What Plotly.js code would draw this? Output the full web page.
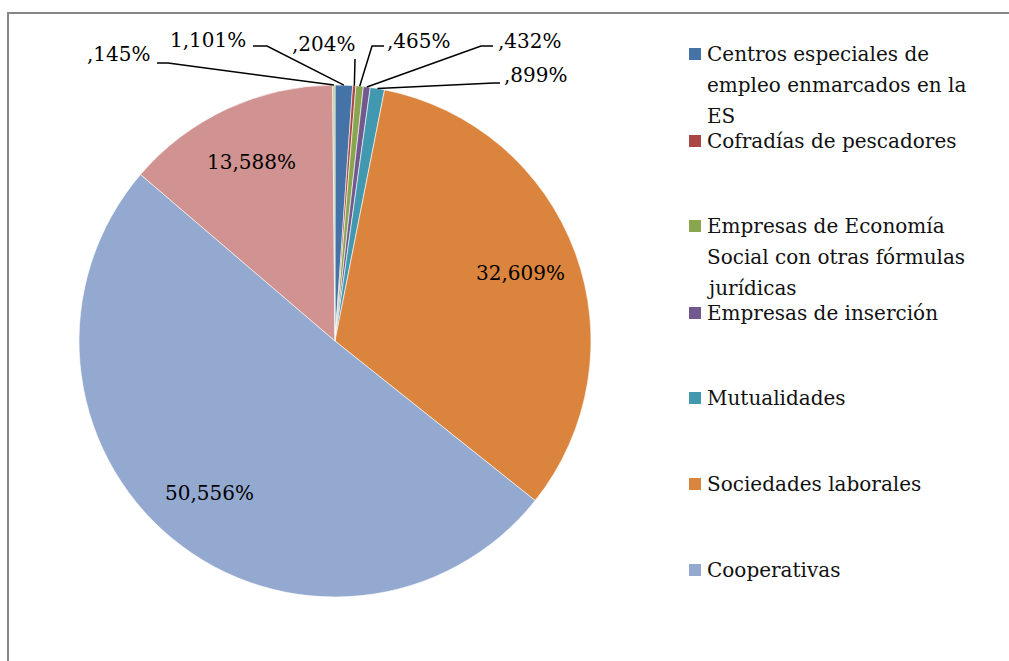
<!DOCTYPE html>
<html>
<head>
<meta charset="utf-8">
<script src="https://cdn.plot.ly/plotly-3.0.1.min.js"></script>
<style>html,body{margin:0;padding:0;background:#fff;}#chart{width:1009px;height:661px;}</style>
</head>
<body>
<div id="chart"></div>
<script>
// ---- data ----
const categories = [
  "Centros especiales de empleo enmarcados en la ES",
  "Cofradías de pescadores",
  "Empresas de Economía Social con otras fórmulas jurídicas",
  "Empresas de inserción",
  "Mutualidades",
  "Sociedades laborales",
  "Cooperativas",
  "Otras entidades (a)",
  "Otras entidades (b)"
];
const values = [1.101, 0.204, 0.465, 0.432, 0.899, 32.609, 50.556, 13.588, 0.145];
const colors = ["#4572A7", "#AA4643", "#89A54E", "#71588F", "#4198AF", "#DB843D", "#93A9CF", "#D19392", "#B9CD96"];
const legendLabels = [
  ["Centros especiales de", "empleo enmarcados en la", "ES"],
  ["Cofradías de pescadores"],
  ["Empresas de Economía", "Social con otras fórmulas", "jurídicas"],
  ["Empresas de inserción"],
  ["Mutualidades"],
  ["Sociedades laborales"],
  ["Cooperativas"]
];

// ---- layout config (pixels) ----
const W = 1009, H = 661;
const pie = {cx: 335, cy: 341, r: 256};
const legendRows = [54, 141, 226, 313, 398, 484, 570];
const legendLineGap = 31;
const legendMarkerX = 695, legendTextX = 705, markerSize = 12;
// small-slice labels: text centre, line start, elbow
const smallLabels = {
  8: {tx: 119, ty: 54, sx: 157, sy: 63, ex: 168, ey: 63},
  0: {tx: 208, ty: 40, sx: 253, sy: 46, ex: 267, ey: 46},
  1: {tx: 324, ty: 44, sx: 355, sy: 59, ex: 355, ey: 59},
  2: {tx: 419, ty: 41, sx: 384, sy: 46, ex: 372, ey: 46},
  3: {tx: 530, ty: 41, sx: 493, sy: 46, ex: 481, ey: 46},
  4: {tx: 536, ty: 75, sx: 500, sy: 83, ex: 494, ey: 83}
};
const FONT = "DejaVu Serif";

const px = x => x / W;
const py = y => 1 - y / H;
function fmt(v) {
  let s = v.toFixed(3).replace('.', ',');
  if (s.startsWith('0,')) s = s.slice(1);
  return s + '%';
}
const total = values.reduce((a, b) => a + b, 0);
function midAngle(i) {
  let c = 0;
  for (let k = 0; k < i; k++) c += values[k];
  return (c + values[i] / 2) / total * 2 * Math.PI;
}
function polar(i, f) {
  const a = midAngle(i);
  return {x: pie.cx + f * pie.r * Math.sin(a), y: pie.cy - f * pie.r * Math.cos(a)};
}

const trace = {
  type: 'pie',
  labels: categories,
  values: values,
  sort: false,
  direction: 'clockwise',
  rotation: 0,
  textinfo: 'none',
  hoverinfo: 'label+percent',
  showlegend: false,
  marker: {colors: colors, line: {color: '#ffffff', width: 0.6}},
  domain: {
    x: [px(pie.cx - pie.r), px(pie.cx + pie.r)],
    y: [py(pie.cy + pie.r), py(pie.cy - pie.r)]
  }
};

const annotations = [];
const shapes = [];

// chart-area frame
shapes.push({type: 'rect', xref: 'paper', yref: 'paper', x0: px(8), x1: px(W + 10), y0: py(H + 10), y1: py(13),
  line: {color: '#868686', width: 2}, fillcolor: 'rgba(0,0,0,0)', layer: 'below'});

// data labels
values.forEach((v, i) => {
  if (smallLabels[i]) {
    const L = smallLabels[i];
    const tip = polar(i, 1.0);
    shapes.push({type: 'path', xref: 'paper', yref: 'paper',
      path: `M ${px(L.sx)} ${py(L.sy)} L ${px(L.ex)} ${py(L.ey)} L ${px(tip.x)} ${py(tip.y)}`,
      line: {color: '#000000', width: 1.5}});
    annotations.push({xref: 'paper', yref: 'paper', x: px(L.tx), y: py(L.ty), text: fmt(v), showarrow: false,
      xanchor: 'center', yanchor: 'middle', font: {family: FONT, size: 20, color: '#000'}});
  } else {
    const p = polar(i, 0.77);
    annotations.push({xref: 'paper', yref: 'paper', x: px(p.x), y: py(p.y), text: fmt(v), showarrow: false,
      xanchor: 'center', yanchor: 'middle', font: {family: FONT, size: 20, color: '#000'}});
  }
});

// legend
legendLabels.forEach((lines, i) => {
  const y = legendRows[i];
  shapes.push({type: 'rect', xref: 'paper', yref: 'paper',
    x0: px(legendMarkerX - markerSize / 2), x1: px(legendMarkerX + markerSize / 2),
    y0: py(y + markerSize / 2), y1: py(y - markerSize / 2),
    line: {width: 0}, fillcolor: colors[i]});
  lines.forEach((t, k) => {
    annotations.push({xref: 'paper', yref: 'paper', x: px(legendTextX), y: py(y + k * legendLineGap), text: t,
      showarrow: false, xanchor: 'left', yanchor: 'middle', align: 'left',
      font: {family: FONT, size: 20, color: '#111'}});
  });
});

const layout = {
  width: W, height: H,
  margin: {l: 0, r: 0, t: 0, b: 0},
  paper_bgcolor: '#ffffff',
  showlegend: false,
  shapes: shapes,
  annotations: annotations
};
Plotly.newPlot('chart', [trace], layout, {displayModeBar: false, staticPlot: true});
</script>
</body>
</html>
